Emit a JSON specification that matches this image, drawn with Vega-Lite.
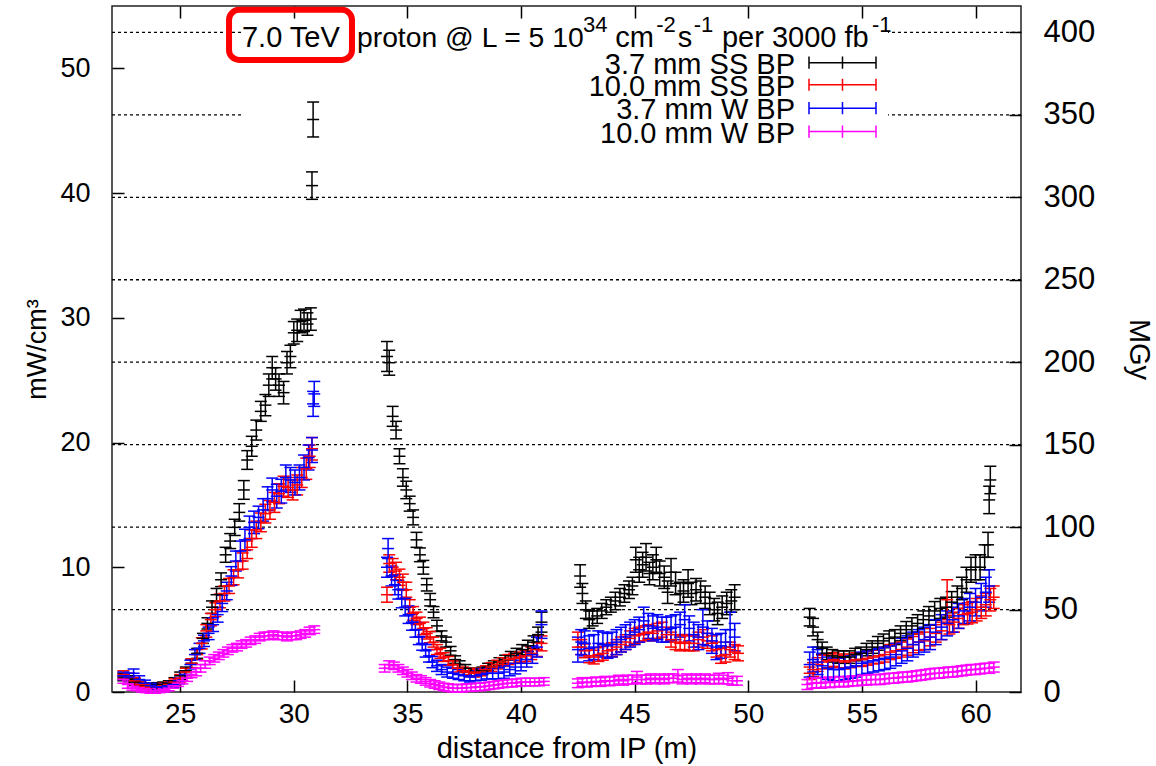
{
"$schema": "https://vega.github.io/schema/vega-lite/v6.json",
"width": 909, "height": 686,
"autosize": {"type": "none"},
"padding": {"left": 112, "top": 6, "right": 135, "bottom": 74},
"background": "white",
"config": {
 "view": {"stroke": "#222", "strokeWidth": 1.5},
 "font": "Liberation Sans",
 "tick": {"opacity": 1},
 "axis": {"labelFont": "Liberation Sans", "labelFontSize": 28, "labelColor": "#000", "titleFont": "Liberation Sans", "titleFontSize": 29, "titleFontWeight": "normal", "titleColor": "#000", "tickColor": "#000", "tickWidth": 1.5, "domain": false, "grid": false}
},
"datasets": {
 "one": [{}],
 "grid": [{"g":50},{"g":100},{"g":150},{"g":200},{"g":250},{"g":300},{"g":350},{"g":400}],
 "pts": [
{"s":"k","x":22.5,"v":1.2,"e":0.3},{"s":"k","x":22.75,"v":1.0,"e":0.3},{"s":"k","x":23.0,"v":0.8,"e":0.25},{"s":"k","x":23.25,"v":0.6,"e":0.2},{"s":"k","x":23.5,"v":0.5,"e":0.2},{"s":"k","x":23.75,"v":0.5,"e":0.2},{"s":"k","x":24.0,"v":0.55,"e":0.2},{"s":"k","x":24.25,"v":0.6,"e":0.2},{"s":"k","x":24.5,"v":0.7,"e":0.2},{"s":"k","x":24.75,"v":0.9,"e":0.25},{"s":"k","x":25.0,"v":1.3,"e":0.3},{"s":"k","x":25.25,"v":1.7,"e":0.3},{"s":"k","x":25.5,"v":2.3,"e":0.35},{"s":"k","x":25.75,"v":3.1,"e":0.4},{"s":"k","x":26.0,"v":4.3,"e":0.4},{"s":"k","x":26.2,"v":5.5,"e":0.45},{"s":"k","x":26.4,"v":6.8,"e":0.5},{"s":"k","x":26.6,"v":7.8,"e":0.5},{"s":"k","x":26.8,"v":9.0,"e":0.55},{"s":"k","x":27.0,"v":11.0,"e":0.6},{"s":"k","x":27.2,"v":12.1,"e":0.6},{"s":"k","x":27.4,"v":13.2,"e":0.65},{"s":"k","x":27.6,"v":14.4,"e":0.7},{"s":"k","x":27.8,"v":16.2,"e":0.75},{"s":"k","x":27.95,"v":18.6,"e":0.75},{"s":"k","x":28.15,"v":19.7,"e":0.8},{"s":"k","x":28.35,"v":21.0,"e":0.8},{"s":"k","x":28.55,"v":22.5,"e":0.8},{"s":"k","x":28.75,"v":23.0,"e":0.85},{"s":"k","x":28.9,"v":24.6,"e":0.9},{"s":"k","x":29.05,"v":26.0,"e":0.9},{"s":"k","x":29.2,"v":25.1,"e":0.9},{"s":"k","x":29.35,"v":24.6,"e":0.9},{"s":"k","x":29.55,"v":24.0,"e":0.9},{"s":"k","x":29.7,"v":26.4,"e":0.9},{"s":"k","x":29.85,"v":26.9,"e":0.9},{"s":"k","x":30.0,"v":28.8,"e":0.9},{"s":"k","x":30.15,"v":29.0,"e":0.9},{"s":"k","x":30.3,"v":29.7,"e":0.9},{"s":"k","x":30.45,"v":29.8,"e":0.9},{"s":"k","x":30.6,"v":29.5,"e":0.9},{"s":"k","x":30.75,"v":29.9,"e":0.9},{"s":"k","x":30.8,"v":40.6,"e":1.1},{"s":"k","x":30.85,"v":45.9,"e":1.4},
{"s":"k","x":34.1,"v":26.9,"e":1.2},{"s":"k","x":34.2,"v":26.4,"e":1.0},{"s":"k","x":34.35,"v":22.1,"e":0.8},{"s":"k","x":34.5,"v":21.0,"e":0.7},{"s":"k","x":34.65,"v":18.9,"e":0.6},{"s":"k","x":34.8,"v":17.2,"e":0.7},{"s":"k","x":34.95,"v":16.2,"e":0.7},{"s":"k","x":35.1,"v":15.1,"e":0.6},{"s":"k","x":35.25,"v":14.0,"e":0.6},{"s":"k","x":35.4,"v":12.2,"e":0.6},{"s":"k","x":35.55,"v":11.0,"e":0.55},{"s":"k","x":35.7,"v":10.0,"e":0.55},{"s":"k","x":35.85,"v":8.6,"e":0.5},{"s":"k","x":36.0,"v":7.4,"e":0.5},{"s":"k","x":36.15,"v":6.4,"e":0.45},{"s":"k","x":36.3,"v":5.3,"e":0.45},{"s":"k","x":36.5,"v":4.5,"e":0.4},{"s":"k","x":36.7,"v":4.0,"e":0.4},{"s":"k","x":36.9,"v":3.3,"e":0.35},{"s":"k","x":37.1,"v":2.6,"e":0.3},{"s":"k","x":37.3,"v":2.2,"e":0.3},{"s":"k","x":37.55,"v":1.9,"e":0.3},{"s":"k","x":37.8,"v":1.6,"e":0.3},{"s":"k","x":38.05,"v":1.6,"e":0.3},{"s":"k","x":38.3,"v":1.7,"e":0.3},{"s":"k","x":38.55,"v":2.0,"e":0.3},{"s":"k","x":38.8,"v":2.2,"e":0.3},{"s":"k","x":39.05,"v":2.4,"e":0.35},{"s":"k","x":39.3,"v":2.6,"e":0.35},{"s":"k","x":39.55,"v":2.9,"e":0.35},{"s":"k","x":39.8,"v":3.1,"e":0.4},{"s":"k","x":40.05,"v":3.4,"e":0.4},{"s":"k","x":40.3,"v":3.7,"e":0.45},{"s":"k","x":40.55,"v":4.0,"e":0.5},{"s":"k","x":40.75,"v":4.6,"e":0.6},{"s":"k","x":40.9,"v":5.6,"e":0.8},
{"s":"k","x":42.6,"v":9.3,"e":0.9},{"s":"k","x":42.7,"v":7.9,"e":0.8},{"s":"k","x":42.85,"v":6.6,"e":0.7},{"s":"k","x":43.0,"v":5.8,"e":0.7},{"s":"k","x":43.15,"v":5.9,"e":0.6},{"s":"k","x":43.35,"v":6.1,"e":0.6},{"s":"k","x":43.55,"v":6.5,"e":0.6},{"s":"k","x":43.75,"v":6.8,"e":0.6},{"s":"k","x":43.95,"v":7.0,"e":0.6},{"s":"k","x":44.15,"v":7.3,"e":0.7},{"s":"k","x":44.35,"v":7.6,"e":0.7},{"s":"k","x":44.55,"v":7.9,"e":0.7},{"s":"k","x":44.75,"v":8.2,"e":0.7},{"s":"k","x":44.9,"v":8.5,"e":0.7},{"s":"k","x":45.05,"v":10.6,"e":1.0},{"s":"k","x":45.2,"v":9.8,"e":1.0},{"s":"k","x":45.35,"v":10.2,"e":1.0},{"s":"k","x":45.5,"v":10.8,"e":1.1},{"s":"k","x":45.65,"v":9.5,"e":0.9},{"s":"k","x":45.8,"v":10.0,"e":1.0},{"s":"k","x":45.95,"v":10.6,"e":1.0},{"s":"k","x":46.1,"v":9.5,"e":1.0},{"s":"k","x":46.3,"v":9.2,"e":0.9},{"s":"k","x":46.45,"v":8.0,"e":0.9},{"s":"k","x":46.6,"v":9.6,"e":1.1},{"s":"k","x":46.8,"v":8.7,"e":0.9},{"s":"k","x":47.0,"v":7.9,"e":0.9},{"s":"k","x":47.15,"v":8.1,"e":0.9},{"s":"k","x":47.35,"v":8.7,"e":1.1},{"s":"k","x":47.5,"v":7.9,"e":0.9},{"s":"k","x":47.7,"v":8.2,"e":0.9},{"s":"k","x":47.9,"v":8.0,"e":0.9},{"s":"k","x":48.1,"v":7.6,"e":0.9},{"s":"k","x":48.3,"v":7.1,"e":0.9},{"s":"k","x":48.5,"v":6.6,"e":0.9},{"s":"k","x":48.65,"v":6.3,"e":0.9},{"s":"k","x":48.85,"v":6.8,"e":0.9},{"s":"k","x":49.05,"v":7.1,"e":0.9},{"s":"k","x":49.25,"v":7.3,"e":0.9},{"s":"k","x":49.4,"v":7.6,"e":1.0},
{"s":"k","x":52.7,"v":6.0,"e":0.7},{"s":"k","x":52.85,"v":5.2,"e":0.7},{"s":"k","x":53.05,"v":4.2,"e":0.6},{"s":"k","x":53.25,"v":3.5,"e":0.5},{"s":"k","x":53.45,"v":3.1,"e":0.5},{"s":"k","x":53.7,"v":2.9,"e":0.5},{"s":"k","x":53.95,"v":2.8,"e":0.5},{"s":"k","x":54.2,"v":2.8,"e":0.5},{"s":"k","x":54.45,"v":2.8,"e":0.5},{"s":"k","x":54.7,"v":3.0,"e":0.5},{"s":"k","x":54.95,"v":3.1,"e":0.5},{"s":"k","x":55.2,"v":3.4,"e":0.5},{"s":"k","x":55.45,"v":3.6,"e":0.5},{"s":"k","x":55.7,"v":3.9,"e":0.55},{"s":"k","x":55.95,"v":4.1,"e":0.55},{"s":"k","x":56.2,"v":4.3,"e":0.6},{"s":"k","x":56.45,"v":4.4,"e":0.6},{"s":"k","x":56.7,"v":4.7,"e":0.6},{"s":"k","x":56.95,"v":5.0,"e":0.65},{"s":"k","x":57.2,"v":5.3,"e":0.65},{"s":"k","x":57.45,"v":5.5,"e":0.7},{"s":"k","x":57.7,"v":5.8,"e":0.7},{"s":"k","x":57.95,"v":6.1,"e":0.75},{"s":"k","x":58.2,"v":6.5,"e":0.75},{"s":"k","x":58.45,"v":6.7,"e":0.8},{"s":"k","x":58.7,"v":6.8,"e":0.8},{"s":"k","x":58.95,"v":7.2,"e":0.85},{"s":"k","x":59.2,"v":7.6,"e":0.9},{"s":"k","x":59.4,"v":8.3,"e":0.9},{"s":"k","x":59.6,"v":9.0,"e":1.0},{"s":"k","x":59.8,"v":9.8,"e":1.0},{"s":"k","x":60.0,"v":10.0,"e":1.0},{"s":"k","x":60.2,"v":10.0,"e":1.0},{"s":"k","x":60.4,"v":10.8,"e":1.0},{"s":"k","x":60.55,"v":11.8,"e":1.0},{"s":"k","x":60.6,"v":15.4,"e":1.1},{"s":"k","x":60.65,"v":17.0,"e":1.1},
{"s":"r","x":22.5,"v":1.4,"e":0.3},{"s":"r","x":22.75,"v":1.2,"e":0.3},{"s":"r","x":23.0,"v":0.9,"e":0.25},{"s":"r","x":23.25,"v":0.6,"e":0.2},{"s":"r","x":23.5,"v":0.45,"e":0.2},{"s":"r","x":23.75,"v":0.4,"e":0.2},{"s":"r","x":24.0,"v":0.4,"e":0.2},{"s":"r","x":24.25,"v":0.5,"e":0.2},{"s":"r","x":24.5,"v":0.6,"e":0.2},{"s":"r","x":24.75,"v":0.8,"e":0.25},{"s":"r","x":25.0,"v":1.1,"e":0.3},{"s":"r","x":25.25,"v":1.6,"e":0.3},{"s":"r","x":25.5,"v":2.3,"e":0.35},{"s":"r","x":25.75,"v":3.0,"e":0.4},{"s":"r","x":25.95,"v":3.9,"e":0.45},{"s":"r","x":26.15,"v":4.9,"e":0.5},{"s":"r","x":26.35,"v":5.8,"e":0.5},{"s":"r","x":26.55,"v":6.6,"e":0.55},{"s":"r","x":26.75,"v":7.3,"e":0.55},{"s":"r","x":26.95,"v":7.9,"e":0.6},{"s":"r","x":27.15,"v":8.5,"e":0.6},{"s":"r","x":27.35,"v":9.2,"e":0.6},{"s":"r","x":27.55,"v":9.8,"e":0.65},{"s":"r","x":27.75,"v":10.5,"e":0.65},{"s":"r","x":27.95,"v":11.4,"e":0.7},{"s":"r","x":28.15,"v":12.3,"e":0.7},{"s":"r","x":28.35,"v":13.0,"e":0.7},{"s":"r","x":28.55,"v":13.6,"e":0.75},{"s":"r","x":28.75,"v":14.3,"e":0.75},{"s":"r","x":28.95,"v":14.6,"e":0.75},{"s":"r","x":29.15,"v":15.2,"e":0.8},{"s":"r","x":29.35,"v":15.9,"e":0.8},{"s":"r","x":29.55,"v":16.5,"e":0.8},{"s":"r","x":29.75,"v":16.4,"e":0.8},{"s":"r","x":29.95,"v":16.2,"e":0.8},{"s":"r","x":30.15,"v":16.6,"e":0.8},{"s":"r","x":30.35,"v":17.2,"e":0.8},{"s":"r","x":30.55,"v":17.9,"e":0.85},{"s":"r","x":30.7,"v":18.9,"e":0.9},{"s":"r","x":30.8,"v":19.5,"e":0.9},
{"s":"r","x":34.1,"v":7.8,"e":0.6},{"s":"r","x":34.2,"v":10.3,"e":0.7},{"s":"r","x":34.35,"v":10.0,"e":0.7},{"s":"r","x":34.5,"v":9.7,"e":0.7},{"s":"r","x":34.65,"v":9.2,"e":0.65},{"s":"r","x":34.8,"v":8.8,"e":0.65},{"s":"r","x":34.95,"v":8.2,"e":0.6},{"s":"r","x":35.1,"v":6.8,"e":0.6},{"s":"r","x":35.25,"v":6.3,"e":0.55},{"s":"r","x":35.4,"v":5.9,"e":0.5},{"s":"r","x":35.55,"v":5.5,"e":0.5},{"s":"r","x":35.7,"v":5.1,"e":0.5},{"s":"r","x":35.85,"v":4.7,"e":0.45},{"s":"r","x":36.0,"v":4.4,"e":0.45},{"s":"r","x":36.15,"v":4.0,"e":0.4},{"s":"r","x":36.3,"v":3.4,"e":0.4},{"s":"r","x":36.45,"v":3.1,"e":0.4},{"s":"r","x":36.6,"v":2.8,"e":0.35},{"s":"r","x":36.8,"v":2.5,"e":0.35},{"s":"r","x":37.0,"v":2.2,"e":0.3},{"s":"r","x":37.2,"v":1.9,"e":0.3},{"s":"r","x":37.45,"v":1.7,"e":0.3},{"s":"r","x":37.7,"v":1.6,"e":0.3},{"s":"r","x":37.95,"v":1.5,"e":0.3},{"s":"r","x":38.2,"v":1.6,"e":0.3},{"s":"r","x":38.45,"v":1.8,"e":0.3},{"s":"r","x":38.7,"v":2.0,"e":0.35},{"s":"r","x":38.95,"v":2.2,"e":0.35},{"s":"r","x":39.2,"v":2.4,"e":0.35},{"s":"r","x":39.45,"v":2.6,"e":0.4},{"s":"r","x":39.7,"v":2.7,"e":0.4},{"s":"r","x":39.95,"v":2.8,"e":0.4},{"s":"r","x":40.2,"v":2.9,"e":0.45},{"s":"r","x":40.45,"v":3.1,"e":0.5},{"s":"r","x":40.7,"v":3.4,"e":0.55},{"s":"r","x":40.9,"v":3.9,"e":0.6},
{"s":"r","x":42.5,"v":4.2,"e":0.6},{"s":"r","x":42.65,"v":3.6,"e":0.6},{"s":"r","x":42.8,"v":3.3,"e":0.55},{"s":"r","x":43.0,"v":2.9,"e":0.55},{"s":"r","x":43.2,"v":2.8,"e":0.55},{"s":"r","x":43.4,"v":3.0,"e":0.55},{"s":"r","x":43.6,"v":3.1,"e":0.55},{"s":"r","x":43.8,"v":3.3,"e":0.55},{"s":"r","x":44.0,"v":3.4,"e":0.55},{"s":"r","x":44.2,"v":3.6,"e":0.6},{"s":"r","x":44.4,"v":3.8,"e":0.6},{"s":"r","x":44.6,"v":4.0,"e":0.6},{"s":"r","x":44.8,"v":4.3,"e":0.6},{"s":"r","x":45.0,"v":4.5,"e":0.6},{"s":"r","x":45.2,"v":4.6,"e":0.6},{"s":"r","x":45.4,"v":4.7,"e":0.6},{"s":"r","x":45.6,"v":4.8,"e":0.6},{"s":"r","x":45.8,"v":4.7,"e":0.6},{"s":"r","x":46.0,"v":4.9,"e":0.6},{"s":"r","x":46.2,"v":5.0,"e":0.6},{"s":"r","x":46.4,"v":4.6,"e":0.6},{"s":"r","x":46.6,"v":4.2,"e":0.6},{"s":"r","x":46.8,"v":4.0,"e":0.6},{"s":"r","x":47.0,"v":3.9,"e":0.6},{"s":"r","x":47.2,"v":4.0,"e":0.6},{"s":"r","x":47.4,"v":3.9,"e":0.6},{"s":"r","x":47.6,"v":3.9,"e":0.6},{"s":"r","x":47.8,"v":4.2,"e":0.6},{"s":"r","x":48.0,"v":4.4,"e":0.6},{"s":"r","x":48.2,"v":4.1,"e":0.6},{"s":"r","x":48.4,"v":3.9,"e":0.6},{"s":"r","x":48.6,"v":3.4,"e":0.6},{"s":"r","x":48.8,"v":2.9,"e":0.6},{"s":"r","x":49.0,"v":3.0,"e":0.6},{"s":"r","x":49.2,"v":3.4,"e":0.6},{"s":"r","x":49.4,"v":3.2,"e":0.6},{"s":"r","x":49.55,"v":3.1,"e":0.6},
{"s":"r","x":52.7,"v":1.5,"e":0.5},{"s":"r","x":52.85,"v":1.8,"e":0.55},{"s":"r","x":53.05,"v":2.2,"e":0.55},{"s":"r","x":53.25,"v":2.4,"e":0.55},{"s":"r","x":53.5,"v":2.5,"e":0.55},{"s":"r","x":53.75,"v":2.6,"e":0.55},{"s":"r","x":54.0,"v":2.5,"e":0.55},{"s":"r","x":54.25,"v":2.4,"e":0.55},{"s":"r","x":54.5,"v":2.5,"e":0.55},{"s":"r","x":54.75,"v":2.6,"e":0.55},{"s":"r","x":55.0,"v":2.6,"e":0.55},{"s":"r","x":55.25,"v":2.7,"e":0.55},{"s":"r","x":55.5,"v":2.8,"e":0.55},{"s":"r","x":55.75,"v":2.9,"e":0.6},{"s":"r","x":56.0,"v":3.0,"e":0.6},{"s":"r","x":56.25,"v":3.2,"e":0.6},{"s":"r","x":56.5,"v":3.3,"e":0.6},{"s":"r","x":56.75,"v":3.4,"e":0.6},{"s":"r","x":57.0,"v":3.6,"e":0.65},{"s":"r","x":57.25,"v":3.8,"e":0.65},{"s":"r","x":57.5,"v":4.0,"e":0.65},{"s":"r","x":57.75,"v":4.1,"e":0.7},{"s":"r","x":58.0,"v":4.4,"e":0.7},{"s":"r","x":58.25,"v":4.7,"e":0.7},{"s":"r","x":58.5,"v":4.9,"e":0.7},{"s":"r","x":58.75,"v":7.4,"e":1.6},{"s":"r","x":58.85,"v":5.4,"e":0.75},{"s":"r","x":59.05,"v":5.6,"e":0.8},{"s":"r","x":59.25,"v":5.9,"e":0.8},{"s":"r","x":59.45,"v":6.2,"e":0.8},{"s":"r","x":59.65,"v":6.3,"e":0.85},{"s":"r","x":59.85,"v":6.4,"e":0.85},{"s":"r","x":60.05,"v":6.6,"e":0.9},{"s":"r","x":60.25,"v":6.8,"e":0.9},{"s":"r","x":60.45,"v":7.0,"e":0.9},{"s":"r","x":60.65,"v":7.4,"e":0.9},{"s":"r","x":60.8,"v":7.6,"e":0.9},
{"s":"b","x":22.5,"v":1.3,"e":0.3},{"s":"b","x":22.75,"v":1.2,"e":0.3},{"s":"b","x":22.95,"v":1.5,"e":0.35},{"s":"b","x":23.2,"v":1.0,"e":0.3},{"s":"b","x":23.45,"v":0.7,"e":0.25},{"s":"b","x":23.7,"v":0.5,"e":0.2},{"s":"b","x":23.95,"v":0.4,"e":0.2},{"s":"b","x":24.2,"v":0.4,"e":0.2},{"s":"b","x":24.45,"v":0.5,"e":0.2},{"s":"b","x":24.7,"v":0.6,"e":0.25},{"s":"b","x":24.95,"v":0.9,"e":0.25},{"s":"b","x":25.2,"v":1.4,"e":0.3},{"s":"b","x":25.45,"v":2.2,"e":0.35},{"s":"b","x":25.65,"v":3.0,"e":0.4},{"s":"b","x":25.85,"v":3.5,"e":0.4},{"s":"b","x":26.05,"v":4.1,"e":0.45},{"s":"b","x":26.25,"v":4.7,"e":0.5},{"s":"b","x":26.45,"v":5.4,"e":0.55},{"s":"b","x":26.65,"v":6.2,"e":0.6},{"s":"b","x":26.85,"v":7.1,"e":0.65},{"s":"b","x":27.05,"v":8.1,"e":0.7},{"s":"b","x":27.25,"v":9.3,"e":0.75},{"s":"b","x":27.45,"v":10.5,"e":0.8},{"s":"b","x":27.65,"v":11.3,"e":0.8},{"s":"b","x":27.85,"v":12.2,"e":0.85},{"s":"b","x":28.05,"v":13.2,"e":0.9},{"s":"b","x":28.25,"v":13.6,"e":0.9},{"s":"b","x":28.45,"v":14.0,"e":0.9},{"s":"b","x":28.65,"v":14.6,"e":0.9},{"s":"b","x":28.85,"v":15.5,"e":0.95},{"s":"b","x":29.05,"v":16.2,"e":0.95},{"s":"b","x":29.25,"v":15.7,"e":0.95},{"s":"b","x":29.45,"v":16.1,"e":0.95},{"s":"b","x":29.65,"v":17.2,"e":1.0},{"s":"b","x":29.85,"v":17.0,"e":1.0},{"s":"b","x":30.05,"v":16.8,"e":1.0},{"s":"b","x":30.25,"v":17.2,"e":1.0},{"s":"b","x":30.45,"v":18.0,"e":1.0},{"s":"b","x":30.65,"v":18.8,"e":1.0},{"s":"b","x":30.8,"v":19.4,"e":1.0},{"s":"b","x":30.85,"v":23.1,"e":1.0},{"s":"b","x":30.9,"v":23.9,"e":1.0},
{"s":"b","x":34.1,"v":10.0,"e":0.8},{"s":"b","x":34.15,"v":11.5,"e":0.8},{"s":"b","x":34.3,"v":9.3,"e":0.8},{"s":"b","x":34.45,"v":8.6,"e":0.8},{"s":"b","x":34.6,"v":8.2,"e":0.75},{"s":"b","x":34.75,"v":7.5,"e":0.75},{"s":"b","x":34.9,"v":6.8,"e":0.7},{"s":"b","x":35.05,"v":6.2,"e":0.7},{"s":"b","x":35.2,"v":5.6,"e":0.65},{"s":"b","x":35.35,"v":5.0,"e":0.6},{"s":"b","x":35.5,"v":4.4,"e":0.6},{"s":"b","x":35.65,"v":3.9,"e":0.55},{"s":"b","x":35.8,"v":3.3,"e":0.5},{"s":"b","x":35.95,"v":2.9,"e":0.5},{"s":"b","x":36.1,"v":2.4,"e":0.45},{"s":"b","x":36.3,"v":2.1,"e":0.45},{"s":"b","x":36.5,"v":1.8,"e":0.4},{"s":"b","x":36.75,"v":1.6,"e":0.4},{"s":"b","x":37.0,"v":1.5,"e":0.4},{"s":"b","x":37.25,"v":1.4,"e":0.4},{"s":"b","x":37.5,"v":1.3,"e":0.4},{"s":"b","x":37.75,"v":1.2,"e":0.4},{"s":"b","x":38.0,"v":1.3,"e":0.4},{"s":"b","x":38.25,"v":1.4,"e":0.45},{"s":"b","x":38.5,"v":1.5,"e":0.45},{"s":"b","x":38.75,"v":1.5,"e":0.45},{"s":"b","x":39.0,"v":1.5,"e":0.45},{"s":"b","x":39.25,"v":1.6,"e":0.5},{"s":"b","x":39.5,"v":1.8,"e":0.5},{"s":"b","x":39.75,"v":2.0,"e":0.55},{"s":"b","x":40.0,"v":2.3,"e":0.6},{"s":"b","x":40.25,"v":2.6,"e":0.6},{"s":"b","x":40.5,"v":3.0,"e":0.7},{"s":"b","x":40.7,"v":3.6,"e":0.8},{"s":"b","x":40.9,"v":5.4,"e":1.1},
{"s":"b","x":42.5,"v":3.4,"e":1.0},{"s":"b","x":42.65,"v":4.0,"e":1.0},{"s":"b","x":42.8,"v":3.9,"e":1.0},{"s":"b","x":43.0,"v":3.5,"e":1.0},{"s":"b","x":43.2,"v":3.6,"e":1.0},{"s":"b","x":43.4,"v":3.9,"e":1.0},{"s":"b","x":43.6,"v":3.8,"e":1.0},{"s":"b","x":43.8,"v":3.7,"e":1.0},{"s":"b","x":44.0,"v":3.8,"e":1.0},{"s":"b","x":44.2,"v":4.0,"e":1.0},{"s":"b","x":44.4,"v":4.2,"e":1.0},{"s":"b","x":44.6,"v":4.4,"e":1.0},{"s":"b","x":44.8,"v":4.6,"e":1.0},{"s":"b","x":45.0,"v":4.8,"e":1.0},{"s":"b","x":45.2,"v":5.0,"e":1.0},{"s":"b","x":45.4,"v":5.7,"e":1.1},{"s":"b","x":45.6,"v":5.3,"e":1.0},{"s":"b","x":45.8,"v":5.1,"e":1.0},{"s":"b","x":46.0,"v":5.2,"e":1.0},{"s":"b","x":46.2,"v":5.0,"e":1.0},{"s":"b","x":46.4,"v":5.0,"e":1.0},{"s":"b","x":46.6,"v":5.1,"e":1.0},{"s":"b","x":46.8,"v":5.2,"e":1.0},{"s":"b","x":47.0,"v":5.4,"e":1.0},{"s":"b","x":47.2,"v":5.8,"e":1.2},{"s":"b","x":47.4,"v":5.1,"e":1.0},{"s":"b","x":47.6,"v":4.6,"e":1.0},{"s":"b","x":47.8,"v":4.4,"e":1.0},{"s":"b","x":48.0,"v":5.2,"e":1.4},{"s":"b","x":48.2,"v":4.7,"e":1.0},{"s":"b","x":48.4,"v":4.1,"e":1.0},{"s":"b","x":48.6,"v":3.6,"e":1.0},{"s":"b","x":48.8,"v":3.7,"e":1.0},{"s":"b","x":49.0,"v":4.0,"e":1.0},{"s":"b","x":49.2,"v":5.0,"e":1.4},{"s":"b","x":49.4,"v":4.4,"e":1.1},
{"s":"b","x":52.7,"v":2.2,"e":1.0},{"s":"b","x":52.85,"v":2.6,"e":1.0},{"s":"b","x":53.05,"v":2.4,"e":1.0},{"s":"b","x":53.25,"v":2.1,"e":1.0},{"s":"b","x":53.5,"v":1.9,"e":0.9},{"s":"b","x":53.75,"v":1.8,"e":0.9},{"s":"b","x":54.0,"v":1.8,"e":0.9},{"s":"b","x":54.25,"v":1.9,"e":0.9},{"s":"b","x":54.5,"v":2.0,"e":0.9},{"s":"b","x":54.75,"v":2.1,"e":0.9},{"s":"b","x":55.0,"v":2.3,"e":0.9},{"s":"b","x":55.25,"v":2.4,"e":0.9},{"s":"b","x":55.5,"v":2.5,"e":0.9},{"s":"b","x":55.75,"v":2.6,"e":0.9},{"s":"b","x":56.0,"v":2.7,"e":0.9},{"s":"b","x":56.25,"v":2.8,"e":0.9},{"s":"b","x":56.5,"v":3.0,"e":0.9},{"s":"b","x":56.75,"v":3.3,"e":1.0},{"s":"b","x":57.0,"v":3.5,"e":1.0},{"s":"b","x":57.25,"v":3.8,"e":1.0},{"s":"b","x":57.5,"v":4.0,"e":1.0},{"s":"b","x":57.75,"v":4.2,"e":1.0},{"s":"b","x":58.0,"v":4.4,"e":1.0},{"s":"b","x":58.25,"v":4.8,"e":1.0},{"s":"b","x":58.5,"v":5.2,"e":1.0},{"s":"b","x":58.75,"v":5.5,"e":1.0},{"s":"b","x":59.0,"v":5.8,"e":1.0},{"s":"b","x":59.25,"v":6.1,"e":1.0},{"s":"b","x":59.5,"v":6.5,"e":1.0},{"s":"b","x":59.75,"v":6.8,"e":1.1},{"s":"b","x":60.0,"v":7.2,"e":1.1},{"s":"b","x":60.25,"v":7.6,"e":1.1},{"s":"b","x":60.45,"v":8.0,"e":1.2},{"s":"b","x":60.6,"v":8.5,"e":1.3},
{"s":"m","x":22.5,"v":1.0,"e":0.3},{"s":"m","x":22.7,"v":0.6,"e":0.3},{"s":"m","x":22.9,"v":0.4,"e":0.25},{"s":"m","x":23.1,"v":0.3,"e":0.2},{"s":"m","x":23.3,"v":0.2,"e":0.2},{"s":"m","x":23.5,"v":0.15,"e":0.2},{"s":"m","x":23.7,"v":0.1,"e":0.2},{"s":"m","x":23.9,"v":0.1,"e":0.2},{"s":"m","x":24.1,"v":0.15,"e":0.2},{"s":"m","x":24.3,"v":0.2,"e":0.2},{"s":"m","x":24.5,"v":0.3,"e":0.2},{"s":"m","x":24.7,"v":0.5,"e":0.2},{"s":"m","x":24.9,"v":0.7,"e":0.25},{"s":"m","x":25.1,"v":0.9,"e":0.25},{"s":"m","x":25.3,"v":1.1,"e":0.25},{"s":"m","x":25.5,"v":1.4,"e":0.25},{"s":"m","x":25.7,"v":1.6,"e":0.3},{"s":"m","x":25.9,"v":1.9,"e":0.3},{"s":"m","x":26.1,"v":2.2,"e":0.3},{"s":"m","x":26.3,"v":2.5,"e":0.3},{"s":"m","x":26.5,"v":2.7,"e":0.3},{"s":"m","x":26.7,"v":2.9,"e":0.3},{"s":"m","x":26.9,"v":3.1,"e":0.3},{"s":"m","x":27.1,"v":3.3,"e":0.3},{"s":"m","x":27.3,"v":3.5,"e":0.3},{"s":"m","x":27.5,"v":3.6,"e":0.3},{"s":"m","x":27.7,"v":3.8,"e":0.3},{"s":"m","x":27.9,"v":3.9,"e":0.3},{"s":"m","x":28.1,"v":4.1,"e":0.3},{"s":"m","x":28.3,"v":4.2,"e":0.3},{"s":"m","x":28.5,"v":4.4,"e":0.3},{"s":"m","x":28.7,"v":4.5,"e":0.3},{"s":"m","x":28.9,"v":4.5,"e":0.3},{"s":"m","x":29.1,"v":4.6,"e":0.3},{"s":"m","x":29.3,"v":4.5,"e":0.3},{"s":"m","x":29.5,"v":4.5,"e":0.3},{"s":"m","x":29.7,"v":4.4,"e":0.3},{"s":"m","x":29.9,"v":4.5,"e":0.3},{"s":"m","x":30.1,"v":4.5,"e":0.3},{"s":"m","x":30.3,"v":4.6,"e":0.3},{"s":"m","x":30.5,"v":4.7,"e":0.3},{"s":"m","x":30.7,"v":4.9,"e":0.3},{"s":"m","x":30.9,"v":5.0,"e":0.3},
{"s":"m","x":34.0,"v":1.9,"e":0.3},{"s":"m","x":34.2,"v":2.2,"e":0.3},{"s":"m","x":34.4,"v":2.1,"e":0.3},{"s":"m","x":34.6,"v":1.9,"e":0.3},{"s":"m","x":34.8,"v":1.7,"e":0.3},{"s":"m","x":35.0,"v":1.5,"e":0.3},{"s":"m","x":35.2,"v":1.3,"e":0.3},{"s":"m","x":35.4,"v":1.1,"e":0.3},{"s":"m","x":35.6,"v":1.0,"e":0.3},{"s":"m","x":35.8,"v":0.85,"e":0.3},{"s":"m","x":36.0,"v":0.7,"e":0.3},{"s":"m","x":36.2,"v":0.6,"e":0.3},{"s":"m","x":36.4,"v":0.5,"e":0.3},{"s":"m","x":36.6,"v":0.4,"e":0.3},{"s":"m","x":36.8,"v":0.35,"e":0.3},{"s":"m","x":37.0,"v":0.3,"e":0.3},{"s":"m","x":37.2,"v":0.3,"e":0.3},{"s":"m","x":37.4,"v":0.3,"e":0.3},{"s":"m","x":37.6,"v":0.35,"e":0.3},{"s":"m","x":37.8,"v":0.35,"e":0.3},{"s":"m","x":38.0,"v":0.4,"e":0.3},{"s":"m","x":38.2,"v":0.4,"e":0.3},{"s":"m","x":38.4,"v":0.45,"e":0.3},{"s":"m","x":38.6,"v":0.5,"e":0.3},{"s":"m","x":38.8,"v":0.55,"e":0.3},{"s":"m","x":39.0,"v":0.6,"e":0.3},{"s":"m","x":39.2,"v":0.65,"e":0.3},{"s":"m","x":39.4,"v":0.7,"e":0.3},{"s":"m","x":39.6,"v":0.7,"e":0.3},{"s":"m","x":39.8,"v":0.75,"e":0.3},{"s":"m","x":40.0,"v":0.8,"e":0.3},{"s":"m","x":40.2,"v":0.8,"e":0.3},{"s":"m","x":40.4,"v":0.8,"e":0.3},{"s":"m","x":40.6,"v":0.8,"e":0.3},{"s":"m","x":40.8,"v":0.8,"e":0.3},{"s":"m","x":41.0,"v":0.85,"e":0.3},
{"s":"m","x":42.5,"v":0.7,"e":0.35},{"s":"m","x":42.7,"v":0.8,"e":0.35},{"s":"m","x":42.9,"v":0.75,"e":0.35},{"s":"m","x":43.1,"v":0.8,"e":0.35},{"s":"m","x":43.3,"v":0.85,"e":0.35},{"s":"m","x":43.5,"v":0.8,"e":0.35},{"s":"m","x":43.7,"v":0.9,"e":0.35},{"s":"m","x":43.9,"v":0.85,"e":0.35},{"s":"m","x":44.1,"v":0.9,"e":0.35},{"s":"m","x":44.3,"v":1.0,"e":0.35},{"s":"m","x":44.5,"v":0.9,"e":0.35},{"s":"m","x":44.7,"v":1.0,"e":0.35},{"s":"m","x":44.9,"v":1.0,"e":0.35},{"s":"m","x":45.1,"v":1.2,"e":0.45},{"s":"m","x":45.3,"v":1.0,"e":0.35},{"s":"m","x":45.5,"v":1.0,"e":0.35},{"s":"m","x":45.7,"v":1.1,"e":0.35},{"s":"m","x":45.9,"v":1.0,"e":0.35},{"s":"m","x":46.1,"v":1.1,"e":0.35},{"s":"m","x":46.3,"v":1.0,"e":0.35},{"s":"m","x":46.5,"v":1.1,"e":0.35},{"s":"m","x":46.7,"v":1.1,"e":0.35},{"s":"m","x":46.9,"v":1.3,"e":0.5},{"s":"m","x":47.1,"v":1.0,"e":0.35},{"s":"m","x":47.3,"v":1.1,"e":0.35},{"s":"m","x":47.5,"v":1.0,"e":0.35},{"s":"m","x":47.7,"v":1.1,"e":0.35},{"s":"m","x":47.9,"v":1.0,"e":0.35},{"s":"m","x":48.1,"v":1.1,"e":0.35},{"s":"m","x":48.3,"v":1.0,"e":0.35},{"s":"m","x":48.5,"v":1.0,"e":0.35},{"s":"m","x":48.7,"v":1.1,"e":0.4},{"s":"m","x":48.9,"v":1.0,"e":0.35},{"s":"m","x":49.1,"v":1.1,"e":0.45},{"s":"m","x":49.3,"v":0.9,"e":0.35},{"s":"m","x":49.5,"v":0.9,"e":0.35},
{"s":"m","x":52.6,"v":0.6,"e":0.4},{"s":"m","x":52.8,"v":0.7,"e":0.4},{"s":"m","x":53.0,"v":0.75,"e":0.4},{"s":"m","x":53.2,"v":0.7,"e":0.4},{"s":"m","x":53.4,"v":0.8,"e":0.4},{"s":"m","x":53.6,"v":0.75,"e":0.4},{"s":"m","x":53.8,"v":0.8,"e":0.4},{"s":"m","x":54.0,"v":0.85,"e":0.4},{"s":"m","x":54.2,"v":0.8,"e":0.4},{"s":"m","x":54.4,"v":0.85,"e":0.4},{"s":"m","x":54.6,"v":0.9,"e":0.4},{"s":"m","x":54.8,"v":0.9,"e":0.4},{"s":"m","x":55.0,"v":0.95,"e":0.4},{"s":"m","x":55.2,"v":0.95,"e":0.4},{"s":"m","x":55.4,"v":1.0,"e":0.4},{"s":"m","x":55.6,"v":1.0,"e":0.4},{"s":"m","x":55.8,"v":1.0,"e":0.4},{"s":"m","x":56.0,"v":1.05,"e":0.4},{"s":"m","x":56.2,"v":1.1,"e":0.4},{"s":"m","x":56.4,"v":1.1,"e":0.4},{"s":"m","x":56.6,"v":1.15,"e":0.4},{"s":"m","x":56.8,"v":1.2,"e":0.4},{"s":"m","x":57.0,"v":1.2,"e":0.4},{"s":"m","x":57.2,"v":1.25,"e":0.4},{"s":"m","x":57.4,"v":1.3,"e":0.4},{"s":"m","x":57.6,"v":1.35,"e":0.4},{"s":"m","x":57.8,"v":1.4,"e":0.4},{"s":"m","x":58.0,"v":1.45,"e":0.4},{"s":"m","x":58.2,"v":1.5,"e":0.4},{"s":"m","x":58.4,"v":1.5,"e":0.4},{"s":"m","x":58.6,"v":1.55,"e":0.4},{"s":"m","x":58.8,"v":1.6,"e":0.4},{"s":"m","x":59.0,"v":1.6,"e":0.4},{"s":"m","x":59.2,"v":1.65,"e":0.4},{"s":"m","x":59.4,"v":1.7,"e":0.4},{"s":"m","x":59.6,"v":1.75,"e":0.4},{"s":"m","x":59.8,"v":1.8,"e":0.4},{"s":"m","x":60.0,"v":1.8,"e":0.4},{"s":"m","x":60.2,"v":1.85,"e":0.4},{"s":"m","x":60.4,"v":1.9,"e":0.4},{"s":"m","x":60.6,"v":1.9,"e":0.4},{"s":"m","x":60.8,"v":2.0,"e":0.4}
 ]
},
"resolve": {"scale": {"y": "independent"}, "axis": {"x": "independent", "y": "independent"}},
"layer": [
 {
  "data": {"name": "grid"},
  "mark": {"type": "rule", "strokeDash": [3, 3], "strokeWidth": 1.3, "color": "#000"},
  "encoding": {
   "y": {"field": "g", "type": "quantitative", "scale": {"domain": [0, 416], "nice": false, "zero": false},
    "axis": {"orient": "right", "values": [0,50,100,150,200,250,300,350,400], "tickSize": -12, "labelPadding": 34, "labelFontSize": 31, "title": "MGy", "titleAngle": 90, "titlePadding": 29}}
  }
 },
 {
  "data": {"name": "one"},
  "mark": {"type": "rect", "fill": "white"},
  "encoding": {
   "x": {"datum": 27.7, "type": "quantitative", "scale": {"domain": [22, 62], "nice": false, "zero": false},
    "axis": {"orient": "top", "values": [25,30,35,40,45,50,55,60], "labels": false, "tickSize": -12, "title": null}},
   "x2": {"datum": 56.15},
   "y": {"datum": 53.7, "type": "quantitative", "scale": {"domain": [0, 55], "nice": false, "zero": false}, "axis": null},
   "y2": {"datum": 43.9}
  }
 },
 {
  "data": {"name": "pts"},
  "mark": {"type": "rule", "opacity": 0},
  "encoding": {
   "x": {"field": "x", "type": "quantitative", "scale": {"domain": [22, 62], "nice": false, "zero": false},
    "axis": {"orient": "bottom", "values": [25,30,35,40,45,50,55,60], "tickSize": -12, "labelPadding": 20, "title": "distance from IP (m)", "titlePadding": 6}},
   "y": {"field": "v", "type": "quantitative", "scale": {"domain": [0, 55], "nice": false, "zero": false},
    "axis": {"orient": "left", "values": [0,10,20,30,40,50], "tickSize": -12, "labelPadding": 34, "labelFontSize": 27, "title": "mW/cm³", "titleFontSize": 27, "titlePadding": 8}}
  }
 },
 {
  "data": {"name": "pts"},
  "mark": {"type": "errorbar", "ticks": true, "size": 12, "thickness": 1.5},
  "encoding": {
   "x": {"field": "x", "type": "quantitative", "scale": {"domain": [22, 62], "nice": false, "zero": false}, "axis": null},
   "y": {"field": "v", "type": "quantitative", "scale": {"domain": [0, 55], "nice": false, "zero": false}, "axis": null},
   "yError": {"field": "e"},
   "color": {"field": "s", "type": "nominal", "scale": {"domain": ["k","r","b","m"], "range": ["#000000","#ff0000","#0000ff","#ff00ff"]}, "legend": null}
  }
 },
 {
  "data": {"name": "pts"},
  "mark": {"type": "tick", "orient": "horizontal", "size": 12, "thickness": 1.5, "opacity": 1},
  "encoding": {
   "x": {"field": "x", "type": "quantitative", "scale": {"domain": [22, 62], "nice": false, "zero": false}, "axis": null},
   "y": {"field": "v", "type": "quantitative", "scale": {"domain": [0, 55], "nice": false, "zero": false}, "axis": null},
   "color": {"field": "s", "type": "nominal", "scale": {"domain": ["k","r","b","m"], "range": ["#000000","#ff0000","#0000ff","#ff00ff"]}, "legend": null}
  }
 },
 {"data": {"name": "one"}, "mark": {"type": "text", "align": "left", "baseline": "alphabetic", "fontSize": 29, "color": "#000"},
  "encoding": {"x": {"datum": 27.72, "type": "quantitative", "scale": {"domain": [22, 62], "nice": false, "zero": false}, "axis": null},
   "y": {"datum": 51.72, "type": "quantitative", "scale": {"domain": [0, 55], "nice": false, "zero": false}, "axis": null},
   "text": {"value": "7.0 TeV"}}},
 {"data": {"name": "one"}, "mark": {"type": "text", "align": "left", "baseline": "alphabetic", "fontSize": 28.3, "color": "#000"},
  "encoding": {"x": {"datum": 32.78, "type": "quantitative", "scale": {"domain": [22, 62], "nice": false, "zero": false}, "axis": null},
   "y": {"datum": 51.72, "type": "quantitative", "scale": {"domain": [0, 55], "nice": false, "zero": false}, "axis": null},
   "text": {"value": "proton @ L = 5 10"}}},
 {"data": {"name": "one"}, "mark": {"type": "text", "align": "left", "baseline": "alphabetic", "fontSize": 22, "color": "#000"},
  "encoding": {"x": {"datum": 42.73, "type": "quantitative", "scale": {"domain": [22, 62], "nice": false, "zero": false}, "axis": null},
   "y": {"datum": 52.93, "type": "quantitative", "scale": {"domain": [0, 55], "nice": false, "zero": false}, "axis": null}, "text": {"value": "34"}}},
 {"data": {"name": "one"}, "mark": {"type": "text", "align": "left", "baseline": "alphabetic", "fontSize": 29, "color": "#000"},
  "encoding": {"x": {"datum": 44.15, "type": "quantitative", "scale": {"domain": [22, 62], "nice": false, "zero": false}, "axis": null},
   "y": {"datum": 51.72, "type": "quantitative", "scale": {"domain": [0, 55], "nice": false, "zero": false}, "axis": null}, "text": {"value": "cm"}}},
 {"data": {"name": "one"}, "mark": {"type": "text", "align": "left", "baseline": "alphabetic", "fontSize": 22, "color": "#000"},
  "encoding": {"x": {"datum": 45.95, "type": "quantitative", "scale": {"domain": [22, 62], "nice": false, "zero": false}, "axis": null},
   "y": {"datum": 52.93, "type": "quantitative", "scale": {"domain": [0, 55], "nice": false, "zero": false}, "axis": null}, "text": {"value": "-2"}}},
 {"data": {"name": "one"}, "mark": {"type": "text", "align": "left", "baseline": "alphabetic", "fontSize": 29, "color": "#000"},
  "encoding": {"x": {"datum": 46.9, "type": "quantitative", "scale": {"domain": [22, 62], "nice": false, "zero": false}, "axis": null},
   "y": {"datum": 51.72, "type": "quantitative", "scale": {"domain": [0, 55], "nice": false, "zero": false}, "axis": null}, "text": {"value": "s"}}},
 {"data": {"name": "one"}, "mark": {"type": "text", "align": "left", "baseline": "alphabetic", "fontSize": 22, "color": "#000"},
  "encoding": {"x": {"datum": 47.6, "type": "quantitative", "scale": {"domain": [22, 62], "nice": false, "zero": false}, "axis": null},
   "y": {"datum": 52.93, "type": "quantitative", "scale": {"domain": [0, 55], "nice": false, "zero": false}, "axis": null}, "text": {"value": "-1"}}},
 {"data": {"name": "one"}, "mark": {"type": "text", "align": "left", "baseline": "alphabetic", "fontSize": 29, "color": "#000"},
  "encoding": {"x": {"datum": 48.84, "type": "quantitative", "scale": {"domain": [22, 62], "nice": false, "zero": false}, "axis": null},
   "y": {"datum": 51.72, "type": "quantitative", "scale": {"domain": [0, 55], "nice": false, "zero": false}, "axis": null}, "text": {"value": "per 3000 fb"}}},
 {"data": {"name": "one"}, "mark": {"type": "text", "align": "left", "baseline": "alphabetic", "fontSize": 22, "color": "#000"},
  "encoding": {"x": {"datum": 55.44, "type": "quantitative", "scale": {"domain": [22, 62], "nice": false, "zero": false}, "axis": null},
   "y": {"datum": 52.93, "type": "quantitative", "scale": {"domain": [0, 55], "nice": false, "zero": false}, "axis": null}, "text": {"value": "-1"}}},
 {"data": {"name": "one"}, "mark": {"type": "text", "align": "right", "baseline": "alphabetic", "fontSize": 29, "color": "#000"},
  "encoding": {"x": {"datum": 52.055, "type": "quantitative", "scale": {"domain": [22, 62], "nice": false, "zero": false}, "axis": null},
   "y": {"datum": 49.58, "type": "quantitative", "scale": {"domain": [0, 55], "nice": false, "zero": false}, "axis": null}, "text": {"value": "3.7 mm SS BP"}}},
 {"data": {"name": "one"}, "mark": {"type": "text", "align": "right", "baseline": "alphabetic", "fontSize": 29, "color": "#000"},
  "encoding": {"x": {"datum": 52.055, "type": "quantitative", "scale": {"domain": [22, 62], "nice": false, "zero": false}, "axis": null},
   "y": {"datum": 47.79, "type": "quantitative", "scale": {"domain": [0, 55], "nice": false, "zero": false}, "axis": null}, "text": {"value": "10.0 mm SS BP"}}},
 {"data": {"name": "one"}, "mark": {"type": "text", "align": "right", "baseline": "alphabetic", "fontSize": 29, "color": "#000"},
  "encoding": {"x": {"datum": 52.055, "type": "quantitative", "scale": {"domain": [22, 62], "nice": false, "zero": false}, "axis": null},
   "y": {"datum": 45.92, "type": "quantitative", "scale": {"domain": [0, 55], "nice": false, "zero": false}, "axis": null}, "text": {"value": "3.7 mm W BP"}}},
 {"data": {"name": "one"}, "mark": {"type": "text", "align": "right", "baseline": "alphabetic", "fontSize": 29, "color": "#000"},
  "encoding": {"x": {"datum": 52.055, "type": "quantitative", "scale": {"domain": [22, 62], "nice": false, "zero": false}, "axis": null},
   "y": {"datum": 44.03, "type": "quantitative", "scale": {"domain": [0, 55], "nice": false, "zero": false}, "axis": null}, "text": {"value": "10.0 mm W BP"}}},
 {"data": {"name": "one"}, "mark": {"type": "point", "shape": "M-1,0H1M-1,-0.18V0.18M1,-0.18V0.18M0,-0.18V0.18", "size": 4489, "filled": false, "color": "#000000", "strokeWidth": 1.5, "opacity": 1},
  "encoding": {"x": {"datum": 54.145, "type": "quantitative", "scale": {"domain": [22, 62], "nice": false, "zero": false}, "axis": null},
   "y": {"datum": 50.46, "type": "quantitative", "scale": {"domain": [0, 55], "nice": false, "zero": false}, "axis": null}}},
 {"data": {"name": "one"}, "mark": {"type": "point", "shape": "M-1,0H1M-1,-0.18V0.18M1,-0.18V0.18M0,-0.18V0.18", "size": 4489, "filled": false, "color": "#ff0000", "strokeWidth": 1.5, "opacity": 1},
  "encoding": {"x": {"datum": 54.145, "type": "quantitative", "scale": {"domain": [22, 62], "nice": false, "zero": false}, "axis": null},
   "y": {"datum": 48.68, "type": "quantitative", "scale": {"domain": [0, 55], "nice": false, "zero": false}, "axis": null}}},
 {"data": {"name": "one"}, "mark": {"type": "point", "shape": "M-1,0H1M-1,-0.18V0.18M1,-0.18V0.18M0,-0.18V0.18", "size": 4489, "filled": false, "color": "#0000ff", "strokeWidth": 1.5, "opacity": 1},
  "encoding": {"x": {"datum": 54.145, "type": "quantitative", "scale": {"domain": [22, 62], "nice": false, "zero": false}, "axis": null},
   "y": {"datum": 46.81, "type": "quantitative", "scale": {"domain": [0, 55], "nice": false, "zero": false}, "axis": null}}},
 {"data": {"name": "one"}, "mark": {"type": "point", "shape": "M-1,0H1M-1,-0.18V0.18M1,-0.18V0.18M0,-0.18V0.18", "size": 4489, "filled": false, "color": "#ff00ff", "strokeWidth": 1.5, "opacity": 1},
  "encoding": {"x": {"datum": 54.145, "type": "quantitative", "scale": {"domain": [22, 62], "nice": false, "zero": false}, "axis": null},
   "y": {"datum": 44.93, "type": "quantitative", "scale": {"domain": [0, 55], "nice": false, "zero": false}, "axis": null}}},
 {"data": {"name": "one"}, "mark": {"type": "rect", "fillOpacity": 0, "fill": "white", "stroke": "#ff0000", "strokeWidth": 6, "cornerRadius": 10},
  "encoding": {"x": {"datum": 27.15, "type": "quantitative", "scale": {"domain": [22, 62], "nice": false, "zero": false}, "axis": null}, "x2": {"datum": 32.56},
   "y": {"datum": 54.69, "type": "quantitative", "scale": {"domain": [0, 55], "nice": false, "zero": false}, "axis": null}, "y2": {"datum": 50.68}}}
]
}
